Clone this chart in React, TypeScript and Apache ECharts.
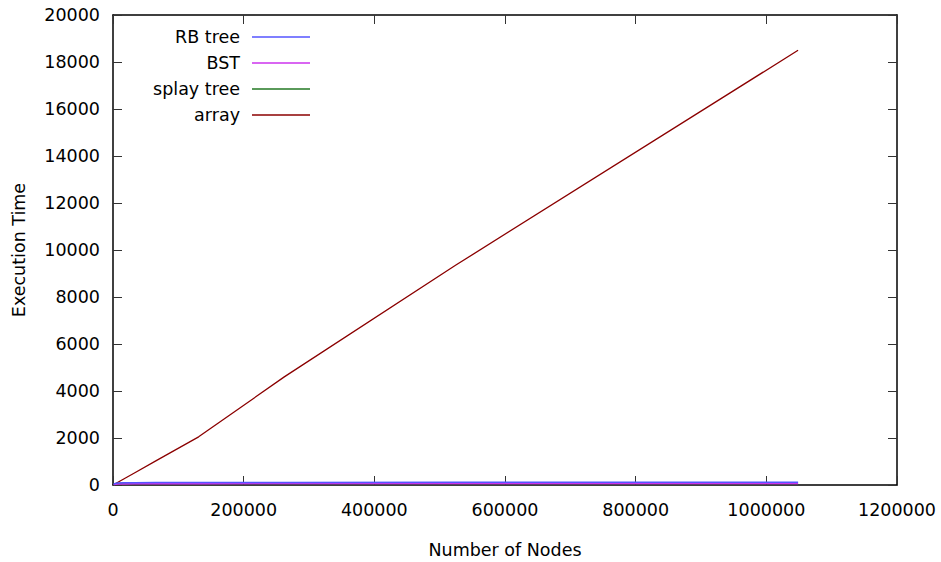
import React, { useEffect, useRef } from "react";
import * as echarts from "echarts";

const nodes = [1024, 2048, 4096, 8192, 16384, 32768, 65536, 131072, 262144, 524288, 1048576];
const rbTree = [30, 50, 70, 85, 95, 100, 105, 108, 110, 112, 115];
const bst = [10, 20, 30, 40, 45, 50, 55, 58, 60, 62, 65];
const splayTree = [20, 35, 50, 60, 70, 75, 80, 83, 85, 88, 90];
const arrayTimes = [16, 32, 64, 128, 256, 513, 1025, 2050, 4600, 9350, 18500];

const seriesNames = ["RB tree", "BST", "splay tree", "array"];
const seriesColors = ["#5555ff", "#cc33ee", "#237823", "#8b0000"];
const seriesValues = [rbTree, bst, splayTree, arrayTimes];

const FONT = "DejaVu Sans";
const FS = 17.5;

export default function App() {
  const ref = useRef<HTMLDivElement>(null);
  useEffect(() => {
    if (!ref.current) return;
    const chart = echarts.init(ref.current, null, { renderer: "svg" });
    const axisLine = () => ({ show: true, onZero: false, lineStyle: { color: "#000", width: 1.5 } });
    const axisTick = () => ({ show: true, inside: true, length: 9, lineStyle: { color: "#333", width: 1 } });
    const labelStyle = { color: "#000", fontFamily: FONT, fontSize: FS };
    const plain = (v: number) => String(v);
    const legends = seriesNames.map((name, i) => ({
      show: true,
      data: [name],
      orient: "vertical",
      align: "right",
      right: 631,
      top: 27 + i * 26,
      padding: 0,
      itemWidth: 58,
      itemHeight: 1.5,
      icon: "rect",
      selectedMode: false,
      textStyle: { color: "#000", fontFamily: FONT, fontSize: FS, lineHeight: 20, padding: [0, 7, 0, 0] },
    }));
    chart.setOption({
      animation: false,
      backgroundColor: "#fff",
      textStyle: { fontFamily: FONT },
      legend: legends,
      grid: { left: 113, right: 44, top: 15, bottom: 77, containLabel: false, outerBoundsMode: "none" },
      xAxis: [
        {
          type: "value",
          min: 0,
          max: 1200000,
          interval: 200000,
          name: "Number of Nodes",
          nameLocation: "middle",
          nameGap: 56,
          nameTextStyle: labelStyle,
          axisLine: axisLine(),
          axisTick: axisTick(),
          splitLine: { show: false },
          axisLabel: { ...labelStyle, margin: 16, formatter: plain },
        },
        {
          type: "value",
          position: "top",
          min: 0,
          max: 1200000,
          interval: 200000,
          axisLine: axisLine(),
          axisTick: axisTick(),
          splitLine: { show: false },
          axisLabel: { show: false },
        },
      ],
      yAxis: [
        {
          type: "value",
          min: 0,
          max: 20000,
          interval: 2000,
          name: "Execution Time",
          nameLocation: "middle",
          nameGap: 85,
          nameTextStyle: labelStyle,
          axisLine: axisLine(),
          axisTick: axisTick(),
          splitLine: { show: false },
          axisLabel: { ...labelStyle, margin: 13, formatter: plain },
        },
        {
          type: "value",
          position: "right",
          min: 0,
          max: 20000,
          interval: 2000,
          axisLine: axisLine(),
          axisTick: axisTick(),
          splitLine: { show: false },
          axisLabel: { show: false },
        },
      ],
      series: seriesNames.map((name, i) => ({
        name,
        type: "line",
        xAxisIndex: 0,
        yAxisIndex: 0,
        showSymbol: false,
        symbol: "none",
        color: seriesColors[i],
        lineStyle: { color: seriesColors[i], width: i === 3 ? 1.3 : 1.5 },
        z: 4 - i,
        data: nodes.map((n, j) => [n, seriesValues[i][j]]),
      })),
    });
    return () => chart.dispose();
  }, []);
  return (
    <div
      ref={ref}
      style={{ position: "absolute", left: 0, top: 0, width: 941, height: 562, background: "#fff" }}
    />
  );
}
